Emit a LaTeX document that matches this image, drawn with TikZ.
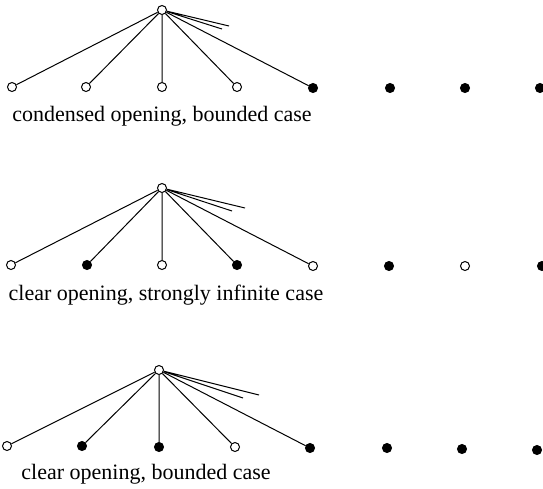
\documentclass[tikz,border=0pt]{standalone}
\usepackage{fontspec}
\setmainfont{Liberation Serif}
\tikzset{
  abierto/.style={circle, draw, fill=white, line width=1pt, inner sep=0pt, minimum size=9pt},
  lleno/.style={circle, draw, fill=black, line width=1pt, inner sep=0pt, minimum size=9pt},
  rama/.style={line width=1pt},
  rotulo/.style={font=\fontsize{22}{25}\selectfont}
}
\begin{document}
\begin{tikzpicture}[x=1pt, y=-1pt]
    \useasboundingbox (0,0) rectangle (543,488);

    % Caso condensado, acotado
    \node[abierto] (r1) at (162,10) {};
    \node[abierto] (a1) at (12,87) {};  \node[abierto] (a2) at (86,87) {};
    \node[abierto] (a3) at (162,87) {}; \node[abierto] (a4) at (237,87) {};
    \node[lleno] (a5) at (313,88) {};   \node[lleno] (a6) at (390,88) {};
    \node[lleno] (a7) at (465,88) {};   \node[lleno] (a8) at (540,88) {};
    \coordinate (ca) at (229,26);
    \coordinate (cb) at (222,29);
    \draw[rama] (r1) -- (a1) (r1) -- (a2) (r1) -- (a3) (r1) -- (a4) (r1) -- (a5);
    \draw[rama] (r1) -- (ca) (r1) -- (cb);
    \node[rotulo] (ta) at (162,116) {condensed opening, bounded case};

    % Caso claro, fuertemente infinito
    \node[abierto] (r2) at (162,188) {};
    \node[abierto] (b1) at (11,265) {};  \node[lleno] (b2) at (87,265) {};
    \node[abierto] (b3) at (162,265) {}; \node[lleno] (b4) at (237,265) {};
    \node[abierto] (b5) at (313,266) {}; \node[lleno] (b6) at (389,266) {};
    \node[abierto] (b7) at (465,266) {}; \node[lleno] (b8) at (542,266) {};
    \coordinate (cc) at (245,208);
    \coordinate (cd) at (232,211);
    \draw[rama] (r2) -- (b1) (r2) -- (b2) (r2) -- (b3) (r2) -- (b4) (r2) -- (b5);
    \draw[rama] (r2) -- (cc) (r2) -- (cd);
    \node[rotulo] (tb) at (166,295) {clear opening, strongly infinite case};

    % Caso claro, acotado
    \node[abierto] (r3) at (159,370) {};
    \node[abierto] (d1) at (7,446) {};  \node[lleno] (d2) at (82,446) {};
    \node[lleno] (d3) at (159,447) {};  \node[abierto] (d4) at (235,447) {};
    \node[lleno] (d5) at (310,448) {};  \node[lleno] (d6) at (387,448) {};
    \node[lleno] (d7) at (462,449) {};  \node[lleno] (d8) at (537,450) {};
    \coordinate (ce) at (259,395);
    \coordinate (cf) at (243,398);
    \draw[rama] (r3) -- (d1) (r3) -- (d2) (r3) -- (d3) (r3) -- (d4) (r3) -- (d5);
    \draw[rama] (r3) -- (ce) (r3) -- (cf);
    \node[rotulo] (tc) at (146,474) {clear opening, bounded case};
\end{tikzpicture}
\end{document}
